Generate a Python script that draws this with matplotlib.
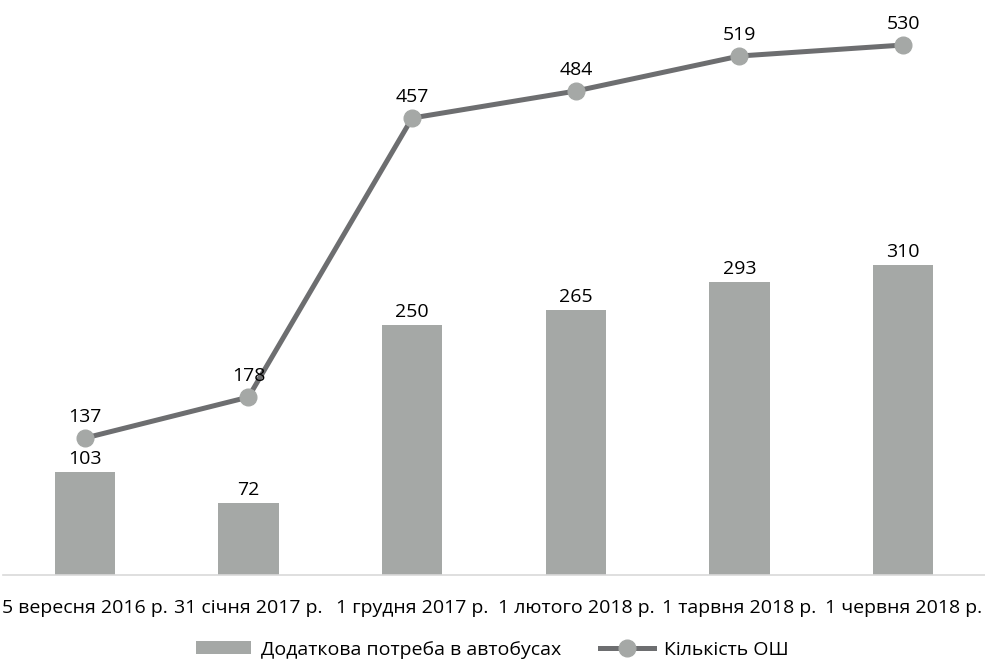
import numpy as np
from matplotlib import pyplot as plt

plt.rcParams['font.family'] = ['Open Sans', 'DejaVu Sans']

# data
dates = ['5 вересня 2016 р.', '31 січня 2017 р.', '1 грудня 2017 р.',
         '1 лютого 2018 р.', '1 тарвня 2018 р.', '1 червня 2018 р.']
bus_need = [103, 72, 250, 265, 293, 310]      # Додаткова потреба в автобусах
schools = [137, 178, 457, 484, 519, 530]      # Кількість ОШ

bar_color = '#A5A8A6'
line_color = '#6D6E70'
fs = 14

fig = plt.figure(figsize=(9.85, 6.68), dpi=100)
ax = fig.add_axes([0.003, 0.139, 0.997, 0.861])

x = np.arange(len(dates))
bars = ax.bar(x, bus_need, width=0.37, color=bar_color, zorder=1,
              label='Додаткова потреба в автобусах')
ln, = ax.plot(x, schools, color=line_color, lw=3.6, marker='o', ms=12,
              mfc=bar_color, mec=bar_color, zorder=2, label='Кількість ОШ')

for xi, v in zip(x, bus_need):
    ax.annotate(str(v), (xi, v), xytext=(0, 3), textcoords='offset points',
                ha='center', va='bottom', fontsize=fs)
for xi, v in zip(x, schools):
    ax.annotate(str(v), (xi, v), xytext=(0, 9), textcoords='offset points',
                ha='center', va='bottom', fontsize=fs)

ax.set_xlim(-0.5, len(dates) - 0.5)
ax.set_ylim(0, 575)
ax.set_xticks(x)
ax.set_xticklabels(dates, fontsize=fs)
ax.tick_params(axis='x', length=0, pad=17)
ax.set_yticks([])
for s in ['top', 'right', 'left']:
    ax.spines[s].set_visible(False)
ax.spines['bottom'].set_color('#D9D9D9')
ax.spines['bottom'].set_linewidth(1.2)

fig.legend(handles=[bars, ln], loc='lower center', bbox_to_anchor=(0.5, -0.012),
           ncol=2, frameon=False, fontsize=fs, columnspacing=2.0,
           handlelength=2.8, handletextpad=0.5, handleheight=0.6)

plt.savefig('out.png', dpi=100)
